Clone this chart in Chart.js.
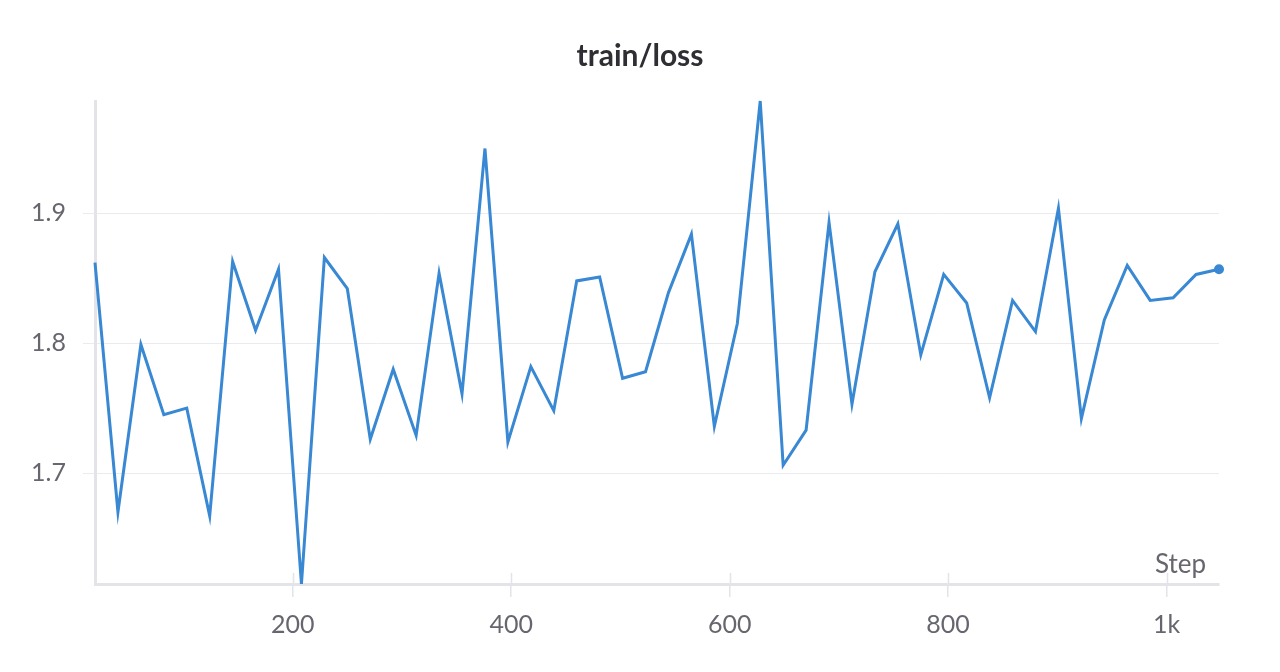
<!DOCTYPE html>
<html>
<head>
<meta charset="utf-8">
<script src="https://cdn.jsdelivr.net/npm/chart.js@4/dist/chart.umd.min.js"></script>
<style>
  html, body { margin: 0; padding: 0; background: #ffffff; }
  #wrap { width: 1280px; height: 672px; }
</style>
</head>
<body>
<div id="wrap"><canvas id="lossChart" width="1280" height="672"></canvas></div>
<script>
// train/loss logged every ~21 steps
const steps = [
  19, 40, 61, 82, 103, 124, 145, 166, 187, 208,
  229, 250, 271, 292, 313, 334, 355, 376, 397, 418,
  439, 460, 481, 502, 523, 544, 565, 586, 607, 628,
  649, 670, 691, 712, 733, 754, 775, 796, 817, 838,
  859, 880, 901, 922, 943, 964, 985, 1006, 1027, 1048
];
const loss = [
  1.862, 1.670, 1.799, 1.745, 1.750, 1.667, 1.863, 1.810, 1.857, 1.6145,
  1.866, 1.842, 1.726, 1.780, 1.729, 1.854, 1.761, 1.950, 1.724, 1.782,
  1.748, 1.848, 1.851, 1.773, 1.778, 1.839, 1.884, 1.736, 1.815, 1.9866,
  1.706, 1.733, 1.893, 1.753, 1.855, 1.892, 1.791, 1.853, 1.831, 1.758,
  1.833, 1.809, 1.904, 1.742, 1.818, 1.860, 1.833, 1.835, 1.853, 1.857
];
const xTicks = [200, 400, 600, 800, 1000];
const yTicks = [1.7, 1.8, 1.9];

const lineColor = "#3988d3";
const axisColor = "#e3e3e8";
const gridColor = "#ebebef";
const textColor = "#66666f";
const fontStack = "Lato, 'Noto Sans', sans-serif";

Chart.defaults.font.family = fontStack;

// panel title (centred on the whole canvas), short tick marks above the
// x axis and the "Step" label inside the plot
const panelDecor = {
  id: "panelDecor",
  afterDraw(chart) {
    const ctx = chart.ctx;
    const area = chart.chartArea;
    const xs = chart.scales.x;
    ctx.save();
    ctx.fillStyle = "#2e2e33";
    ctx.font = "bold 30px " + fontStack;
    ctx.textAlign = "center";
    ctx.textBaseline = "alphabetic";
    ctx.fillText("train/loss", chart.width / 2, 66);

    ctx.strokeStyle = axisColor;
    ctx.lineWidth = 1.5;
    xTicks.forEach(v => {
      const px = Math.round(xs.getPixelForValue(v)) + 0.5;
      ctx.beginPath();
      ctx.moveTo(px, area.bottom - 11);
      ctx.lineTo(px, area.bottom);
      ctx.stroke();
    });
    ctx.fillStyle = textColor;
    ctx.font = "26px " + fontStack;
    ctx.textAlign = "right";
    ctx.fillText("Step", area.right - 13, area.bottom - 11);
    ctx.restore();
  }
};

const points = steps.map((s, i) => ({ x: s, y: loss[i] }));
const lastIdx = points.length - 1;

new Chart(document.getElementById("lossChart").getContext("2d"), {
  type: "line",
  data: {
    datasets: [{
      label: "train/loss",
      data: points,
      borderColor: lineColor,
      backgroundColor: lineColor,
      borderWidth: 3,
      tension: 0,
      fill: false,
      clip: false,
      pointRadius: c => (c.dataIndex === lastIdx ? 5 : 0),
      pointBorderWidth: 0,
      pointBackgroundColor: lineColor
    }]
  },
  plugins: [panelDecor],
  options: {
    responsive: false,
    animation: false,
    layout: { padding: { left: 0, right: 61, top: 101, bottom: 0 } },
    plugins: {
      legend: { display: false },
      tooltip: { enabled: false },
      title: { display: false }
    },
    scales: {
      x: {
        type: "linear",
        min: steps[0],
        max: steps[lastIdx],
        afterFit: s => { s.height = 88; },
        afterBuildTicks: s => { s.ticks = xTicks.map(v => ({ value: v })); },
        border: { color: axisColor, width: 3 },
        grid: { drawOnChartArea: false, drawTicks: true, tickLength: 13, color: axisColor, lineWidth: 1.5 },
        ticks: {
          color: textColor,
          font: { size: 25 },
          padding: 13,
          maxRotation: 0,
          callback: v => (v >= 1000 ? (v / 1000) + "k" : v)
        }
      },
      y: {
        type: "linear",
        min: Math.min(...loss),
        max: Math.max(...loss),
        afterFit: s => { s.width = 95; },
        afterBuildTicks: s => { s.ticks = yTicks.map(v => ({ value: v })); },
        border: { color: axisColor, width: 3 },
        grid: { color: gridColor, lineWidth: 1, drawTicks: true, tickLength: 12 },
        ticks: {
          color: textColor,
          font: { size: 25 },
          padding: 17,
          callback: v => v.toFixed(1)
        }
      }
    }
  }
});
</script>
</body>
</html>
